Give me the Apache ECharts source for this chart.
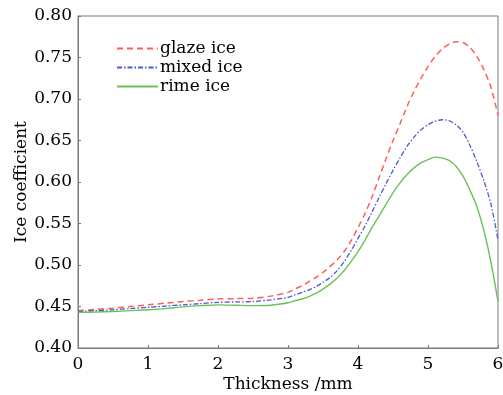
<!DOCTYPE html>
<html>
<head>
<meta charset="utf-8">
<script src="https://cdn.jsdelivr.net/npm/echarts@6/dist/echarts.min.js"></script>
<style>html,body{margin:0;padding:0;background:#fff;}#c{width:503px;height:395px;}</style>
</head>
<body>
<div id="c"></div>
<script>
const thickness = [0, 0.25, 0.5, 0.75, 1.0, 1.25, 1.5, 1.75, 2.0, 2.25, 2.5, 2.75,
  3.0, 3.1, 3.2, 3.3, 3.4, 3.5, 3.6, 3.7, 3.8, 3.9, 4.0, 4.1, 4.2, 4.3, 4.4, 4.5, 4.6, 4.7, 4.8, 4.9,
  5.0, 5.1, 5.2, 5.3, 5.4, 5.5, 5.6, 5.7, 5.8, 5.9, 6.0];
const glaze = [0.445, 0.4465, 0.448, 0.450, 0.452, 0.454, 0.456, 0.4575, 0.459, 0.4595, 0.460, 0.4625,
  0.467, 0.471, 0.475, 0.480, 0.485, 0.491, 0.498, 0.506, 0.516, 0.529, 0.545, 0.562, 0.582, 0.605, 0.628, 0.650, 0.670, 0.691, 0.709, 0.725,
  0.739, 0.751, 0.760, 0.766, 0.769, 0.768, 0.762, 0.751, 0.735, 0.714, 0.680];
const mixed = [0.444, 0.445, 0.446, 0.4475, 0.449, 0.4505, 0.452, 0.4535, 0.455, 0.4555, 0.456, 0.458,
  0.461, 0.464, 0.467, 0.470, 0.474, 0.479, 0.485, 0.493, 0.504, 0.517, 0.532, 0.547, 0.564, 0.581, 0.598, 0.614, 0.629, 0.643, 0.654, 0.663,
  0.669, 0.673, 0.675, 0.674, 0.669, 0.660, 0.644, 0.624, 0.601, 0.573, 0.530];
const rime = [0.443, 0.4433, 0.444, 0.445, 0.446, 0.4475, 0.4495, 0.451, 0.452, 0.4515, 0.451, 0.4515,
  0.4545, 0.457, 0.459, 0.462, 0.466, 0.471, 0.477, 0.484, 0.493, 0.504, 0.516, 0.530, 0.545, 0.559, 0.573, 0.587, 0.599, 0.609, 0.617, 0.623,
  0.627, 0.630, 0.629, 0.626, 0.619, 0.607, 0.590, 0.570, 0.541, 0.503, 0.456];
const seriesNames = ['glaze ice', 'mixed ice', 'rime ice'];
const xTitle = 'Thickness /mm';
const yTitle = 'Ice coefficient';

const pair = arr => thickness.map((x, i) => [x, arr[i]]);
const font = 'DejaVu Serif';
const chart = echarts.init(document.getElementById('c'));
chart.setOption({
  backgroundColor: '#fff',
  animation: false,
  grid: {left: 78, right: 5, top: 16, bottom: 47, show: true, borderColor: '#7a7a7a', borderWidth: 1, outerBoundsMode: 'none', containLabel: false},
  legend: {
    left: 111, top: 35, orient: 'vertical', itemWidth: 41, itemHeight: 14, itemGap: 2,
    itemStyle: {opacity: 0},
    textStyle: {fontFamily: font, fontSize: 17, color: '#000', padding: [0,0,0,-3]},
    data: seriesNames
  },
  xAxis: {
    type: 'value', min: 0, max: 6, interval: 1,
    name: xTitle, nameLocation: 'middle', nameGap: 28, nameMoveOverlap: false,
    nameTextStyle: {fontFamily: font, fontSize: 17, color: '#000'},
    axisLine: {show: true, lineStyle: {color: '#7a7a7a'}},
    axisTick: {show: true, inside: true, length: 3, lineStyle: {color: '#7a7a7a'}},
    axisLabel: {fontFamily: font, fontSize: 17, color: '#000', margin: 8},
    splitLine: {show: false}
  },
  yAxis: {
    type: 'value', min: 0.40, max: 0.80, interval: 0.05,
    name: yTitle, nameLocation: 'middle', nameGap: 48, nameMoveOverlap: false,
    nameTextStyle: {fontFamily: font, fontSize: 17, color: '#000'},
    axisLine: {show: true, lineStyle: {color: '#7a7a7a'}},
    axisTick: {show: true, inside: true, length: 3, lineStyle: {color: '#7a7a7a'}},
    axisLabel: {fontFamily: font, fontSize: 17, color: '#000', margin: 6, formatter: v => v.toFixed(2)},
    splitLine: {show: false}
  },
  series: [
    {name: seriesNames[0], type: 'line', smooth: 0.3, symbol: 'none', data: pair(glaze),
     itemStyle: {color: '#ff5f55'}, lineStyle: {color: '#ff5f55', width: 1.5, type: [6, 4]}},
    {name: seriesNames[1], type: 'line', smooth: 0.3, symbol: 'none', data: pair(mixed),
     itemStyle: {color: '#4a5ad0'}, lineStyle: {color: '#4a5ad0', width: 1.3, type: [5, 2, 1.5, 2]}},
    {name: seriesNames[2], type: 'line', smooth: 0.3, symbol: 'none', data: pair(rime),
     itemStyle: {color: '#6cc05c'}, lineStyle: {color: '#6cc05c', width: 1.4}}
  ]
});
</script>
</body>
</html>
